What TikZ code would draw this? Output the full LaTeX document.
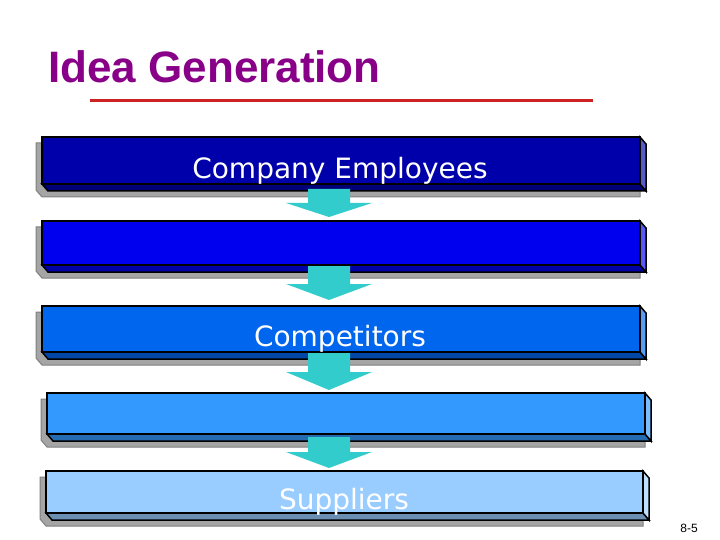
\documentclass[tikz,border=0pt]{standalone}
\usepackage{fontspec}
\setmainfont{Liberation Sans}
\newfontfamily\barfont{DejaVu Sans}
\usepackage{tikz}
\usetikzlibrary{positioning}
\definecolor{idea-purple}{RGB}{136,0,136}
\definecolor{idea-red}{RGB}{204,34,34}
\definecolor{idea-cyan}{RGB}{51,204,204}
\definecolor{shade-gray}{RGB}{165,165,165}
\definecolor{bar-a}{RGB}{0,0,170}
\definecolor{bar-b}{RGB}{0,0,238}
\definecolor{bar-c}{RGB}{0,102,238}
\definecolor{bar-d}{RGB}{51,153,255}
\definecolor{bar-e}{RGB}{153,204,255}
% #1 fill, #2 left, #3 right, #4 top, #5 bottom of front face
\newcommand{\ideabar}[5]{%
    \filldraw[shade-gray, draw=gray, line width=1] (#2-6,#4+6) -- (#3-6,#4+6) -- (#3,#4+13) -- (#3,#5+13) -- (#2,#5+13) -- (#2-6,#5+6) -- cycle;
    \filldraw[fill=#1!70!black, line width=1.5] (#2,#5) -- (#3,#5) -- (#3+6,#5+7) -- (#2+6,#5+7) -- cycle;
    \filldraw[fill=#1!65!white, line width=1.5] (#3,#4) -- (#3+6,#4+7) -- (#3+6,#5+7) -- (#3,#5) -- cycle;
    \filldraw[fill=#1, line width=1.5] (#2,#4) rectangle (#3,#5);
}
% #1 x centre, #2 stem top, #3 head base, #4 tip
\newcommand{\ideaarrow}[4]{%
    \fill[idea-cyan] (#1-21,#2) -- (#1+21,#2) -- (#1+21,#3) -- (#1+43,#3) -- (#1,#4) -- (#1-43,#3) -- (#1-21,#3) -- cycle;
}

\begin{document}
\begin{tikzpicture}[x=1pt,y=-1pt,
    bartext/.style={text=white, font=\barfont\fontsize{28}{28}\selectfont, inner sep=0pt, anchor=base}]
    \useasboundingbox (0,0) rectangle (720,540);
    \node[text=idea-purple, font=\bfseries\fontsize{44}{44}\selectfont, anchor=base west, inner sep=0pt] (title) at (48,83) {Idea Generation};
    \draw[idea-red, line width=3] (90,101) coordinate (rulestart) -- (593,101) coordinate (ruleend);

    \ideabar{bar-a}{42}{640}{137}{184}
    \ideabar{bar-b}{42}{640}{221}{265}
    \ideabar{bar-c}{42}{640}{306}{352}
    \ideabar{bar-d}{47}{645}{393}{434}
    \ideabar{bar-e}{46}{643}{471}{513}

    \ideaarrow{329}{189}{203}{217}
    \ideaarrow{329}{266}{284}{300}
    \ideaarrow{329}{353}{372}{390}
    \ideaarrow{329}{437}{452}{468}

    \node[bartext] (employees) at (340,179) {Company Employees};
    \node[bartext] (competitors) at (340,346) {Competitors};
    \node[bartext] (suppliers) at (344,509) {Suppliers};
    \node[font=\fontsize{12}{12}\selectfont, inner sep=0pt, anchor=base] (pageno) at (689,532) {8-5};
\end{tikzpicture}
\end{document}
